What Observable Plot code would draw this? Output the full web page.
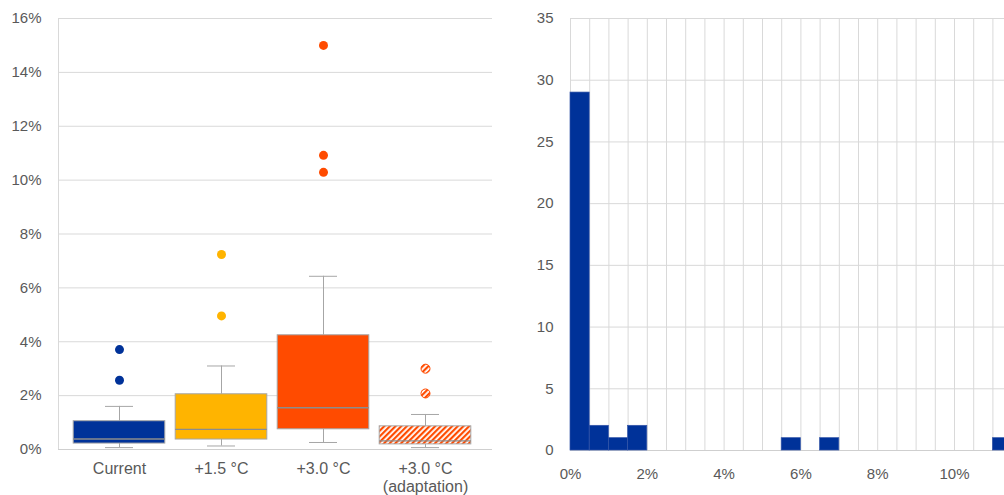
<!DOCTYPE html>
<html><head><meta charset="utf-8">
<script src="https://cdn.jsdelivr.net/npm/d3@7"></script>
<script src="https://cdn.jsdelivr.net/npm/@observablehq/plot@0.6"></script>
<style>
html,body{margin:0;padding:0;background:#fff;overflow:hidden;}
#wrap{width:1004px;height:495px;overflow:hidden;position:relative;display:flex;}
#left{width:500px;flex:none}
#right{flex:none}
</style></head><body><div id="wrap"><div id="left"></div><div id="right"></div></div>
<script>
// ---- Left panel: box plot ----
const scenarios = ["Current", "+1.5 °C", "+3.0 °C", "+3.0 °C\n(adaptation)"];
const scenarioFill = ["#003299", "#FFB400", "#FF4B00", "url(#hatch)"];
const whiskerLow = [0.0007, 0.0013, 0.0026, 0.0007];
const q1 = [0.0022, 0.0037, 0.0075, 0.0019];
const median = [0.0039, 0.0075, 0.0155, 0.0032];
const q3 = [0.0105, 0.0205, 0.0424, 0.0086];
const whiskerHigh = [0.0160, 0.0310, 0.0643, 0.0130];
const outlierScenario = ["Current", "Current", "+1.5 °C", "+1.5 °C", "+3.0 °C", "+3.0 °C", "+3.0 °C", "+3.0 °C\n(adaptation)", "+3.0 °C\n(adaptation)"];
const outlierValue = [0.0371, 0.0257, 0.0496, 0.0724, 0.1500, 0.1092, 0.1029, 0.0300, 0.0208];
const yTicksLeft = [0, 0.02, 0.04, 0.06, 0.08, 0.10, 0.12, 0.14, 0.16];

// ---- Right panel: histogram ----
const binStart = [0, 0.005, 0.010, 0.015, 0.055, 0.065, 0.110];
const binEnd   = [0.005, 0.010, 0.015, 0.020, 0.060, 0.070, 0.115];
const binCount = [29, 2, 1, 2, 1, 1, 1];
const xTicksRight = [0, 0.02, 0.04, 0.06, 0.08, 0.10];
const yTicksRight = [0, 5, 10, 15, 20, 25, 30, 35];

const FONT = '"Liberation Sans", Arial, sans-serif';
const GRID = "#d9d9d9";
const GREY = "#a6a6a6";
const pct = d => Math.round(d * 100) + "%";

const boxes = scenarios.map((s, i) => ({scenario: s, fill: scenarioFill[i], low: whiskerLow[i], q1: q1[i], med: median[i], q3: q3[i], high: whiskerHigh[i]}));
const outliers = outlierScenario.map((s, i) => ({scenario: s, value: outlierValue[i], fill: scenarioFill[scenarios.indexOf(s)], stroke: scenarioFill[scenarios.indexOf(s)].startsWith("url") ? "#FF4B00" : "none"}));

const left = Plot.plot({
  width: 500, height: 495,
  marginLeft: 58, marginRight: 8, marginTop: 18, marginBottom: 46,
  style: {fontSize: "15px", fontFamily: FONT, color: "#595959", background: "#fff"},
  x: {domain: scenarios, range: [66.8, 476.4], padding: 0, label: null},
  y: {domain: [0, 0.16], label: null},
  color: {type: "identity"},
  marks: [
    Plot.ruleY(yTicksLeft, {stroke: GRID}),
    Plot.frame({anchor: "left", stroke: GRID}),
    Plot.ruleY([0], {stroke: "#cfcfcf"}),
    Plot.ruleX(boxes, {x: "scenario", y1: "low", y2: "q1", stroke: GREY}),
    Plot.ruleX(boxes, {x: "scenario", y1: "q3", y2: "high", stroke: GREY}),
    Plot.tickY(boxes, {x: "scenario", y: "low", stroke: GREY, insetLeft: 37, insetRight: 37}),
    Plot.tickY(boxes, {x: "scenario", y: "high", stroke: GREY, insetLeft: 37, insetRight: 37}),
    Plot.barY(boxes, {x: "scenario", y1: "q1", y2: "q3", fill: "fill", stroke: GREY, insetLeft: 5.2, insetRight: 5.2}),
    Plot.tickY(boxes, {x: "scenario", y: "med", stroke: "#8c8c8c", strokeWidth: 1.3, insetLeft: 5.2, insetRight: 5.2}),
    Plot.dot(outliers, {x: "scenario", y: "value", r: 4.5, fill: "fill", stroke: "stroke", strokeWidth: 1}),
    Plot.axisY({ticks: yTicksLeft, tickFormat: pct, tickSize: 0, tickPadding: 17, label: null}),
    Plot.axisX({tickSize: 0, tickPadding: 12, lineHeight: 1.1, fontSize: 16, label: null})
  ]
});
const ns = "http://www.w3.org/2000/svg";
const defs = document.createElementNS(ns, "defs");
defs.innerHTML = '<pattern id="hatch" patternUnits="userSpaceOnUse" width="4" height="4" patternTransform="rotate(45)"><rect width="4" height="4" fill="#fff"/><rect width="2.2" height="4" fill="#FF4B00"/></pattern>';
left.insertBefore(defs, left.firstChild);
document.getElementById("left").appendChild(left);

const hist = binStart.map((s, i) => ({start: s, end: binEnd[i], count: binCount[i]}));
const gridX = d3.range(0, 0.1201, 0.005);
const right = Plot.plot({
  width: 540, height: 495,
  marginLeft: 70, marginRight: 9.2, marginTop: 18, marginBottom: 45,
  style: {fontSize: "15px", fontFamily: FONT, color: "#595959", background: "#fff"},
  x: {domain: [0, 0.12], label: null},
  y: {domain: [0, 35], label: null},
  marks: [
    Plot.ruleX(gridX, {stroke: GRID}),
    Plot.ruleY(yTicksRight, {stroke: GRID}),
    Plot.ruleY([0], {stroke: "#cfcfcf"}),
    Plot.rectY(hist, {x1: "start", x2: "end", y: "count", fill: "#003299", stroke: "#3355a8", strokeWidth: 0.7}),
    Plot.axisX({ticks: xTicksRight, tickFormat: pct, tickSize: 0, tickPadding: 18, label: null}),
    Plot.axisY({ticks: yTicksRight, tickSize: 0, tickPadding: 17, label: null})
  ]
});
document.getElementById("right").appendChild(right);
</script></body></html>
